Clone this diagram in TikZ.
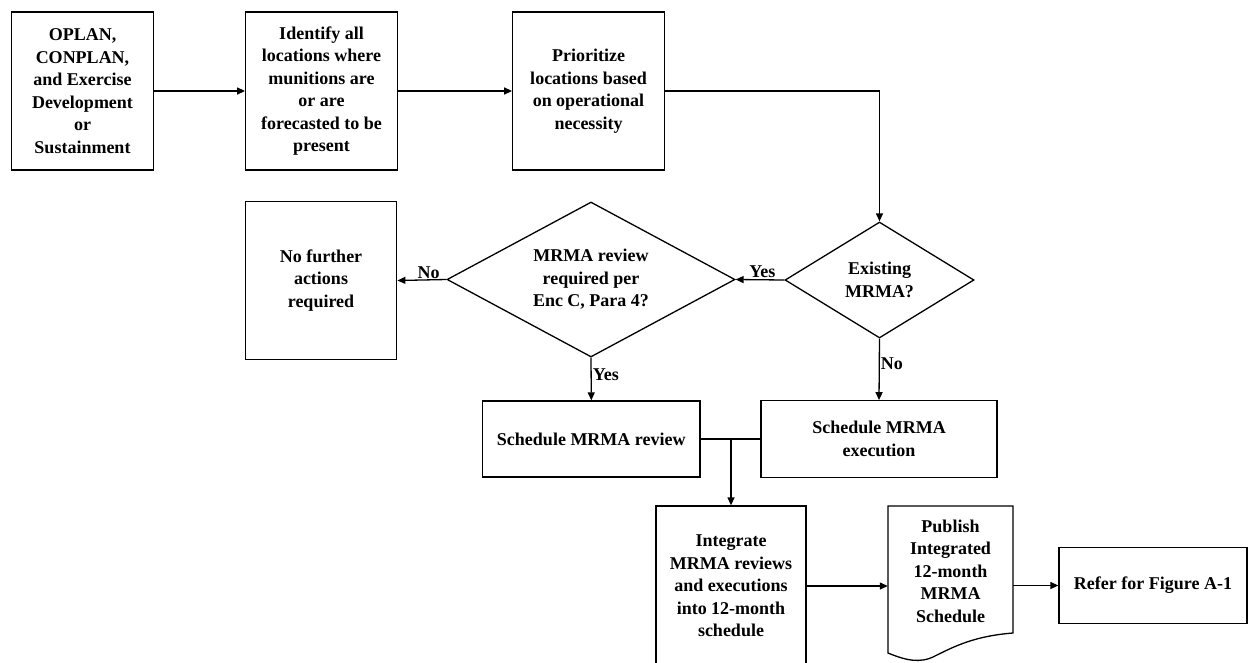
\documentclass[tikz,border=0pt]{standalone}
\usepackage{fontspec}
\setmainfont{Liberation Serif}
\usetikzlibrary{arrows.meta,shapes.geometric}
\begin{document}
\begin{tikzpicture}[x=1pt,y=-1pt,
  every node/.style={font=\fontsize{18}{22.5}\selectfont\bfseries, align=center},
  box/.style={draw, line width=1.3pt, rectangle, inner sep=0pt},
  dec/.style={draw, line width=1.3pt, diamond, inner sep=0pt},
  arr/.style={line width=1.3pt, -{Triangle[length=8pt,width=7pt]}},
  ln/.style={line width=1.3pt},
  lbl/.style={inner sep=1pt}]
\useasboundingbox (0,0) rectangle (1248,662);
\clip (0,0) rectangle (1248,662);
\fill[white] (0,0) rectangle (1248,662);

\node[box, minimum width=141.5pt, minimum height=158pt] (b1) at (82.5,91)
  {OPLAN,\\CONPLAN,\\and Exercise\\Development\\or\\Sustainment};
\node[box, minimum width=151.5pt, minimum height=158pt] (b2) at (321.5,91)
  {Identify all\\locations where\\munitions are\\or are\\forecasted to be\\present};
\node[box, minimum width=151.5pt, minimum height=158pt] (b3) at (588.5,91)
  {Prioritize\\locations based\\on operational\\necessity};

\node[dec, aspect=1.63, minimum width=189pt, minimum height=116pt] (d1) at (879.5,280)
  {Existing\\MRMA?};
\node[dec, aspect=1.88, minimum width=288pt, minimum height=155pt] (d2) at (591,279.5)
  {MRMA review\\required per\\Enc C, Para 4?};
\node[box, minimum width=151.5pt, minimum height=157.5pt] (nf) at (321,280.5)
  {No further\\actions\\required};

\node[box, minimum width=217.5pt, minimum height=76pt] (sr) at (591.3,439)
  {Schedule MRMA review};
\node[box, minimum width=236pt, minimum height=76.5pt] (se) at (879,439)
  {Schedule MRMA\\execution};

\node[box, minimum width=150pt, minimum height=160pt] (ib) at (731,586)
  {Integrate\\MRMA reviews\\and executions\\into 12-month\\schedule};

\node[minimum width=125pt, inner sep=0pt] (doc) at (950.5,571)
  {Publish\\Integrated\\12-month\\MRMA\\Schedule};
\draw[ln] (888,506) -- (1013,506) -- (1013,633)
  .. controls (975,636) and (955,646) .. (935,656)
  .. controls (920,664) and (905,660) .. (888,653) -- cycle;

\node[box, minimum width=188pt, minimum height=75.5pt] (rf) at (1153,585.5)
  {Refer for Figure A-1};

\coordinate (j) at (731,439);

\draw[arr] (b1.east) -- (b2.west);
\draw[arr] (b2.east) -- (b3.west);
\draw[arr] (b3.east) -| (d1.north);
\draw[arr] (d1.west) -- node[lbl, above, pos=0.45] {Yes} (d2.east);
\draw[arr] (d2.west) -- node[lbl, above, pos=0.36] {No} (nf.east);
\draw[arr] (d2.south) -- node[lbl, right, pos=0.4] {Yes} (sr.north);
\draw[arr] (d1.south) -- node[lbl, right, pos=0.4] {No} (se.north);
\draw[ln] (sr.east) -- (se.west);
\draw[arr] (j) -- (ib.north);
\draw[arr] (ib.east) -- (ib.east -| doc.west);
\draw[arr] (rf.west -| doc.east) -- (rf.west);
\end{tikzpicture}
\end{document}
